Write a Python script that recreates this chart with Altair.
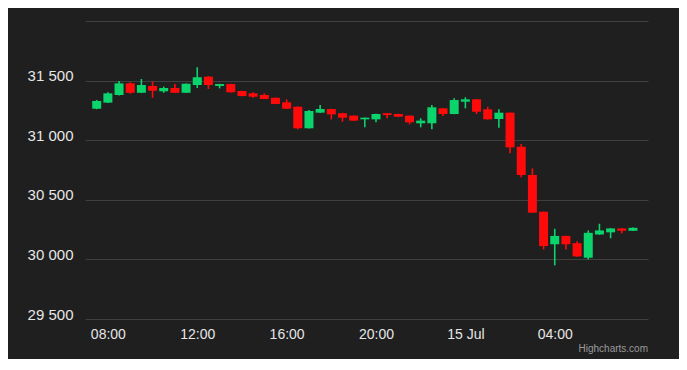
import altair as alt
import pandas as pd

times = pd.date_range("2023-07-14T07:30:00Z", periods=49, freq="30min").strftime("%Y-%m-%dT%H:%M:%SZ").tolist()

opens = [31264, 31315, 31379, 31477, 31398, 31455, 31410, 31438, 31398, 31463,
         31533, 31455, 31471, 31413, 31393, 31379, 31356, 31318, 31281, 31100,
         31231, 31262, 31226, 31206, 31175, 31175, 31226, 31220, 31206, 31142,
         31142, 31267, 31220, 31323, 31343, 31259, 31178, 31231, 30945, 30708,
         30400, 30127, 30197, 30136, 30014, 30209, 30227, 30260, 30240]
closes = [31329, 31393, 31477, 31398, 31463, 31415, 31438, 31398, 31474, 31528,
          31463, 31471, 31402, 31371, 31365, 31346, 31304, 31264, 31100, 31245,
          31262, 31217, 31189, 31164, 31189, 31220, 31211, 31197, 31150, 31164,
          31276, 31220, 31337, 31343, 31239, 31175, 31231, 30940, 30708, 30392,
          30112, 30197, 30127, 30025, 30223, 30243, 30260, 30240, 30265]
highs = [31337, 31402, 31497, 31486, 31513, 31494, 31449, 31471, 31476, 31612,
         31538, 31473, 31474, 31415, 31402, 31393, 31358, 31343, 31283, 31253,
         31295, 31264, 31230, 31208, 31191, 31222, 31228, 31222, 31208, 31184,
         31295, 31269, 31351, 31360, 31345, 31281, 31259, 31233, 30968, 30764,
         30402, 30257, 30199, 30153, 30243, 30299, 30262, 30262, 30267]
lows = [31260, 31312, 31375, 31390, 31395, 31356, 31398, 31396, 31396, 31438,
        31429, 31435, 31400, 31369, 31356, 31344, 31302, 31262, 31091, 31098,
        31229, 31175, 31155, 31162, 31108, 31150, 31184, 31195, 31133, 31108,
        31091, 31203, 31218, 31267, 31220, 31173, 31105, 30890, 30689, 30390,
        30084, 29950, 30084, 30023, 30000, 30207, 30177, 30218, 30238]

y_ticks = [29500, 30000, 30500, 31000, 31500, 32000]
x_ticks = ["2023-07-14T08:00:00Z", "2023-07-14T12:00:00Z", "2023-07-14T16:00:00Z",
           "2023-07-14T20:00:00Z", "2023-07-15T00:00:00Z", "2023-07-15T04:00:00Z"]

df = pd.DataFrame({"t": times, "open": opens, "close": closes, "high": highs, "low": lows})

UP = "#0bd46c"
DOWN = "#ff0a0a"
BG = "#1f1f1f"
FONT = "Liberation Sans"

x_tick_dt = [alt.DateTime(year=int(s[0:4]), month=int(s[5:7]), date=int(s[8:10]),
                          hours=int(s[11:13]), minutes=0, utc=True) for s in x_ticks]

xenc = alt.X(
    "t:T",
    scale=alt.Scale(type="utc",
                    domain=[alt.DateTime(year=2023, month=7, date=14, hours=7, minutes=12, utc=True),
                            alt.DateTime(year=2023, month=7, date=15, hours=7, minutes=57, utc=True)]),
    axis=alt.Axis(
        values=x_tick_dt,
        labelExpr="utcFormat(datum.value, '%H') == '00' ? utcFormat(datum.value, '%d %b') : utcFormat(datum.value, '%H:%M')",
        grid=False, domain=False, ticks=False, title=None,
        labelColor="#e6e6e6", labelFontSize=14, labelFont=FONT, labelPadding=8,
        labelFlush=False,
    ),
)

color = alt.condition("datum.open <= datum.close", alt.value(UP), alt.value(DOWN))

wicks = alt.Chart(df).mark_rule(strokeWidth=1.6).encode(
    x=xenc,
    y=alt.Y("low:Q",
            scale=alt.Scale(domain=[29500, 32000], nice=False, zero=False),
            axis=alt.Axis(values=y_ticks, title=None, domain=False, ticks=False,
                          gridColor="#404040", gridWidth=1,
                          labelExpr="datum.value >= 32000 ? '' : replace(format(datum.value, ','), ',', ' ')",
                          labelColor="#e6e6e6", labelFontSize=15, labelFont=FONT,
                          labelPadding=12, labelBaseline="alphabetic")),
    y2="high:Q",
    color=color,
)

bodies = alt.Chart(df).mark_bar(size=9).encode(
    x=xenc,
    y="open:Q",
    y2="close:Q",
    color=color,
)

chart = (wicks + bodies).properties(
    width=563,
    height=298,
    autosize=alt.AutoSizeParams(type="none"),
    padding={"left": 77, "top": 13, "right": 31, "bottom": 40},
    background=BG,
    title=alt.TitleParams("Highcharts.com", orient="bottom", anchor="end", frame="group",
                          fontSize=10, fontWeight="normal", color="#9a9a9a", font=FONT, offset=3),
).configure_view(strokeWidth=0)

chart.save("out.html", embed_options={"renderer": "svg", "actions": False})
